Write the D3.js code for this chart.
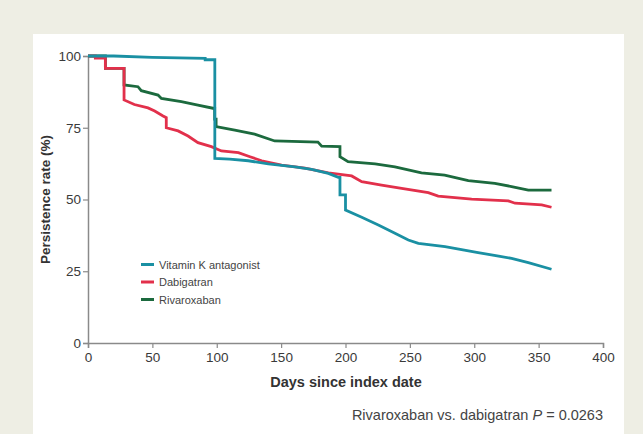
<!DOCTYPE html>
<html>
<head>
<meta charset="utf-8">
<script src="https://cdn.jsdelivr.net/npm/d3@7"></script>
<style>
  body { margin: 0; background: #eeeee4; }
  svg { display: block; font-family: "Liberation Sans", Arial, sans-serif; }
</style>
</head>
<body>
<div id="chart"></div>
<script>
// Persistence curves (day, persistence %); repeated days are the drops
const vkaDays = [0, 20, 50, 91, 91, 98.5, 98.5, 110, 124.5, 140, 160.8, 173.7, 186.7, 194.4, 195.7, 195.7, 200, 200, 212.6, 225.5, 238.4, 248.8, 256.6, 277.3, 303, 329, 342, 360];
const vkaVals = [100, 100, 99.5, 99.2, 98.7, 98.7, 64.3, 64.1, 63.5, 62.4, 61.4, 60.5, 59.1, 57.7, 57.7, 51.6, 51.6, 46.3, 43.8, 41.1, 38.2, 35.9, 34.7, 33.6, 31.5, 29.5, 28, 25.7];

const dabiDays = [0, 5.7, 5.7, 13.5, 13.5, 28, 28, 36, 46.6, 51.8, 58.3, 60.8, 60.8, 70, 77.7, 85.4, 95.8, 103.6, 116.8, 125.8, 134.9, 150.4, 168.5, 186.7, 204.8, 212.6, 228, 243.6, 264.3, 272, 298, 326.5, 331.7, 352.4, 360];
const dabiVals = [100, 100, 99.3, 99.3, 95.7, 95.7, 84.7, 83.1, 81.9, 80.8, 79.1, 78.5, 75, 73.9, 72.1, 69.8, 68.4, 66.9, 66.3, 64.9, 63.5, 62, 60.9, 59.3, 58.2, 56.2, 55, 53.9, 52.4, 51.2, 50.1, 49.5, 48.7, 48.1, 47.3];

const rivaDays = [0, 13.5, 13.5, 28, 28, 38.8, 41.4, 54.4, 57, 72.5, 85.4, 97, 98.4, 98.4, 99.5, 99.5, 114, 129.4, 145, 178.6, 181.5, 195.7, 195.7, 202, 223, 238.4, 259, 277, 295.4, 316, 329, 342, 360];
const rivaVals = [100, 100, 95.7, 95.7, 89.9, 89.3, 87.9, 86.4, 85.2, 84.1, 82.9, 81.8, 81.8, 78, 78, 75.4, 74.2, 72.8, 70.4, 70, 68.6, 68.4, 64.9, 63.2, 62.4, 61.4, 59.3, 58.5, 56.6, 55.6, 54.5, 53.3, 53.3];

const seriesNames = ['Vitamin K antagonist', 'Dabigatran', 'Rivaroxaban'];
const seriesColors = ['#1a90a3', '#e2304b', '#1c6a3e'];

const xTicks = [0, 50, 100, 150, 200, 250, 300, 350, 400];
const yTicks = [0, 25, 50, 75, 100];

const width = 643, height = 434;
const margin = { top: 56, right: 40, bottom: 91, left: 88 };

const svg = d3.select('#chart')
    .append('svg')
    .attr('width', width)
    .attr('height', height);

// beige frame with white panel
svg.append('rect')
    .attr('width', width)
    .attr('height', height)
    .attr('fill', '#eeeee4');
svg.append('rect')
    .attr('x', 33)
    .attr('y', 34)
    .attr('width', 591)
    .attr('height', 400)
    .attr('fill', '#ffffff');

const x = d3.scaleLinear()
    .domain([0, 400])
    .range([margin.left, width - margin.right]);

const y = d3.scaleLinear()
    .domain([0, 100])
    .range([height - margin.bottom, margin.top]);

// axes
const xAxis = svg.append('g')
    .attr('transform', `translate(0,${y(0)})`)
    .call(d3.axisBottom(x).tickValues(xTicks).tickSize(5).tickPadding(4));

const yAxis = svg.append('g')
    .attr('transform', `translate(${x(0)},0)`)
    .call(d3.axisLeft(y).tickValues(yTicks).tickSize(5).tickPadding(2));

[xAxis, yAxis].forEach(ax => {
    ax.select('.domain').attr('stroke', '#8a8a8a').attr('stroke-width', 1.5);
    ax.selectAll('.tick line').attr('stroke', '#8a8a8a').attr('stroke-width', 1.2);
    ax.selectAll('.tick text')
        .attr('font-size', '13.5px')
        .attr('fill', '#3a3a3a')
        .attr('font-family', '"Liberation Sans", Arial, sans-serif');
});

// curves
const series = [
    { days: vkaDays, vals: vkaVals },
    { days: dabiDays, vals: dabiVals },
    { days: rivaDays, vals: rivaVals }
];

const line = d3.line()
    .x(d => x(d[0]))
    .y(d => y(d[1]));

[2, 1, 0].forEach(i => {
    const pts = series[i].days.map((d, j) => [d, series[i].vals[j]]);
    svg.append('path')
        .datum(pts)
        .attr('d', line)
        .attr('fill', 'none')
        .attr('stroke', seriesColors[i])
        .attr('stroke-width', 2.8);
});

// legend
seriesNames.forEach((name, i) => {
    const ly = 264.5 + i * 17.5;
    svg.append('line')
        .attr('x1', 141)
        .attr('x2', 154)
        .attr('y1', ly)
        .attr('y2', ly)
        .attr('stroke', seriesColors[i])
        .attr('stroke-width', 3);
    svg.append('text')
        .attr('x', 159)
        .attr('y', ly + 4)
        .attr('font-size', '11px')
        .attr('fill', '#444')
        .text(name);
});

// axis titles
svg.append('text')
    .attr('x', 346)
    .attr('y', 387)
    .attr('text-anchor', 'middle')
    .attr('font-size', '14.5px')
    .attr('font-weight', 'bold')
    .attr('fill', '#333')
    .text('Days since index date');

svg.append('text')
    .attr('transform', `translate(50,${(y(0) + y(100)) / 2}) rotate(-90)`)
    .attr('text-anchor', 'middle')
    .attr('font-size', '13.5px')
    .attr('font-weight', 'bold')
    .attr('fill', '#333')
    .text('Persistence rate (%)');

// p-value note
const note = svg.append('text')
    .attr('x', x(400))
    .attr('y', 420)
    .attr('text-anchor', 'end')
    .attr('font-size', '14.5px')
    .attr('fill', '#444');
note.append('tspan').text('Rivaroxaban vs. dabigatran ');
note.append('tspan').attr('font-style', 'italic').text('P');
note.append('tspan').text(' = 0.0263');
</script>
</body>
</html>
